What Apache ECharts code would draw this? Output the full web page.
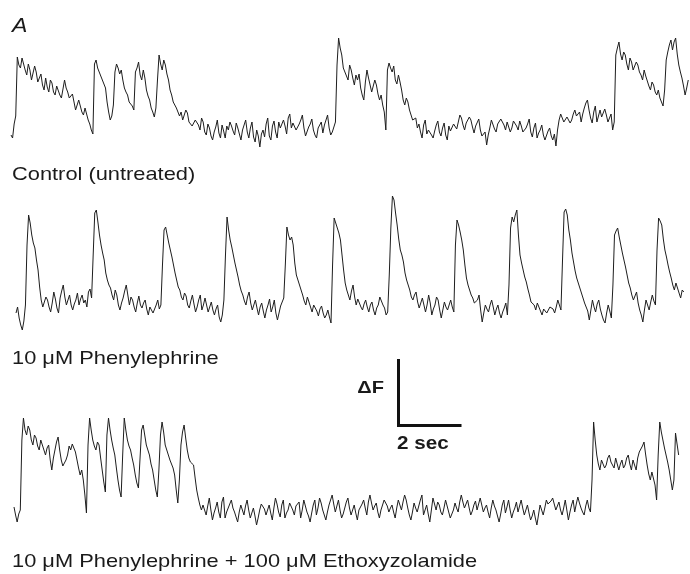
<!DOCTYPE html>
<html>
<head>
<meta charset="utf-8">
<script src="https://cdn.jsdelivr.net/npm/echarts@6/dist/echarts.min.js"></script>
<style>
html,body{margin:0;padding:0;background:#fff;}
#chart{width:690px;height:574px;}
</style>
</head>
<body>
<div id="chart"></div>
<script>
// Sampling interval (seconds) of each fluorescence trace
var dt = 0.05;

// Trace 1: Control (untreated) - fluorescence (a.u.)
var controlF = [
  15,12,26,34,93,85,82,92,90,80,75,86,80,70,72,84,78,68,70,76,
  65,60,72,63,58,70,67,58,55,64,62,55,52,61,70,62,58,52,50,56,
  48,40,42,50,44,38,35,42,36,30,26,20,16,86,90,82,80,74,72,66,
  62,48,38,30,34,45,78,86,82,76,80,70,62,58,55,48,50,44,40,78,
  82,88,75,70,80,72,60,54,50,42,38,33,42,70,95,86,80,90,85,76,
  70,60,55,48,50,42,40,34,38,30,32,40,37,28,30,24,22,30,32,25,
  20,32,28,18,15,26,22,14,10,18,23,30,17,12,25,19,12,24,20,28,
  24,19,15,27,22,16,10,20,25,30,18,12,22,28,13,8,20,14,3,16,
  20,13,26,32,14,10,24,29,18,12,28,22,20,30,24,16,32,36,22,27,
  25,20,18,26,30,35,22,14,16,23,26,31,20,15,12,22,24,28,17,25,
  30,35,22,15,18,23,28,85,112,102,95,82,78,74,70,85,80,72,65,75,
  70,76,62,55,50,68,80,72,65,58,60,70,65,56,50,55,45,38,20,80,
  87,82,78,84,70,66,75,68,60,50,45,52,48,40,38,30,28,32,22,26,
  18,12,25,30,16,20,22,15,12,19,25,29,18,14,22,27,15,10,24,19,
  20,26,28,21,22,35,32,25,20,27,25,33,30,23,17,24,26,31,20,14,
  12,18,5,15,22,30,28,21,18,26,24,31,30,25,20,28,26,18,22,29,
  28,24,20,29,24,18,16,22,26,31,18,13,22,27,12,17,20,25,15,10,
  12,19,22,14,10,16,4,20,30,36,38,28,26,33,35,27,30,36,40,34,
  32,38,28,36,42,47,50,40,32,27,38,44,28,34,40,33,32,41,35,28,
  30,36,20,28,95,102,108,96,90,98,95,86,80,92,88,80,78,88,85,78,
  75,70,80,74,72,64,60,68,65,58,55,60,52,48,44,60,90,98,105,110,
  100,108,112,96,85,78,72,64,55,62,70
];

// Trace 2: 10 uM Phenylephrine
var pheF = [
  22,28,17,10,5,14,30,90,120,112,100,92,87,75,65,48,35,28,30,38,
  35,28,23,32,43,36,27,22,37,44,50,38,30,35,40,30,25,31,35,42,
  30,36,40,32,35,28,43,46,37,80,122,125,113,100,90,82,75,62,55,50,
  47,40,35,45,40,30,25,32,37,44,50,40,30,38,35,28,23,32,39,30,
  27,32,35,26,20,28,30,22,23,30,35,26,30,70,105,108,100,92,85,78,
  70,62,55,48,45,38,35,42,39,30,27,34,40,31,23,28,35,40,25,30,
  37,30,23,28,33,25,20,26,30,18,13,20,35,80,118,105,95,88,80,72,
  65,58,50,44,40,34,30,38,43,32,25,30,35,27,20,28,32,24,17,25,
  30,36,23,28,35,22,15,22,29,33,37,70,108,100,95,98,90,72,60,55,
  50,45,40,34,30,38,37,28,23,30,32,24,19,26,29,22,17,20,25,18,
  12,70,117,112,107,102,95,80,65,52,45,40,35,44,50,38,30,36,37,28,
  25,31,35,28,23,30,33,25,20,27,30,38,37,30,27,20,23,60,107,139,
  135,122,110,96,85,80,73,62,55,50,45,38,35,40,43,33,27,32,37,30,
  23,30,40,32,20,26,30,38,35,25,17,25,33,28,25,30,35,28,23,90,
  115,110,103,95,85,70,57,50,45,40,37,32,30,35,40,25,13,22,30,26,
  23,30,35,28,20,26,30,22,17,23,27,32,20,50,107,118,113,120,125,100,
  80,72,65,58,53,46,40,33,35,30,25,32,30,24,20,26,27,22,23,28,
  30,26,22,28,35,30,25,75,123,126,120,105,95,82,73,64,57,52,47,42,
  37,32,30,24,15,25,35,28,23,31,35,26,20,15,12,22,30,24,17,50,
  100,104,107,98,90,82,75,68,60,52,47,40,35,39,43,32,25,20,13,25,
  35,30,25,33,40,34,30,85,117,114,110,96,85,78,70,63,57,50,45,52,
  50,42,37,45,43
];

// Trace 3: 10 uM Phenylephrine + 100 uM Ethoxyzolamide
var pheEtzF = [
  23,15,8,16,20,90,112,100,95,104,100,90,85,95,92,84,80,90,88,80,
  75,82,85,70,60,72,80,88,93,80,70,64,62,70,75,84,80,86,87,78,
  70,62,55,60,50,35,17,85,112,100,90,84,80,88,85,72,60,48,38,95,
  112,100,90,82,75,62,50,40,33,75,112,100,90,84,80,72,65,55,47,42,
  40,100,105,95,85,80,75,66,60,50,40,33,60,95,108,98,85,80,75,70,
  68,62,55,40,27,50,85,98,105,92,80,72,68,70,65,52,40,32,25,20,
  25,20,15,24,32,20,10,17,22,28,18,12,28,33,12,18,20,26,30,22,
  18,13,8,18,25,20,15,24,30,20,12,17,22,14,5,12,20,26,27,21,
  15,20,25,17,10,22,32,26,18,13,25,30,12,17,20,27,28,20,15,24,
  22,28,12,20,30,24,18,14,8,17,25,30,15,22,32,27,20,15,10,18,
  25,30,35,26,18,24,30,20,12,16,22,28,32,22,15,20,25,17,10,20,
  22,26,30,22,15,28,35,27,20,24,27,18,12,20,25,30,32,24,18,22,
  25,18,12,22,30,25,20,28,35,30,22,15,10,18,27,22,18,24,30,35,
  15,20,25,16,8,20,32,26,20,28,25,18,15,22,30,24,18,12,10,20,
  27,22,18,28,35,28,22,26,30,22,15,19,25,29,20,26,32,25,18,22,
  25,18,12,22,30,24,20,14,8,16,25,30,17,23,30,20,12,18,22,28,
  18,24,30,22,15,20,25,17,10,14,20,12,5,15,25,20,15,22,30,26,
  25,29,32,26,20,24,28,20,15,22,30,20,10,18,25,30,18,26,33,27,
  22,18,15,24,30,22,18,50,108,90,75,66,60,70,72,62,65,72,75,68,
  68,62,72,66,60,66,70,62,65,72,75,66,60,70,65,60,72,78,80,84,
  88,76,65,56,50,58,60,45,30,75,108,98,90,82,75,68,60,50,40,50,
  97,86,75
];

// Text
var panelLabel = 'A';
var traceLabels = ['Control (untreated)', '10 \u03bcM Phenylephrine', '10 \u03bcM Phenylephrine + 100 \u03bcM Ethoxyzolamide'];
var scaleYLabel = '\u0394F';
var scaleXLabel = '2 sec';

function toPairs(arr) {
  return arr.map(function (v, i) { return [+(i * dt).toFixed(3), v]; });
}

var pxPerSec = 31.5;
var traces = [
  { data: controlF, left: 11, top: 30, height: 120, ymax: 120 },
  { data: pheF,     left: 16, top: 185, height: 150, ymax: 150 },
  { data: pheEtzF,  left: 14, top: 410, height: 120, ymax: 120 }
];

var grids = [], xAxes = [], yAxes = [], series = [];
traces.forEach(function (t, k) {
  var span = (t.data.length - 1) * dt;
  grids.push({ left: t.left, top: t.top, width: span * pxPerSec, height: t.height, containLabel: false });
  xAxes.push({ type: 'value', gridIndex: k, min: 0, max: span, show: false });
  yAxes.push({ type: 'value', gridIndex: k, min: 0, max: t.ymax, show: false });
  series.push({
    type: 'line', xAxisIndex: k, yAxisIndex: k, data: toPairs(t.data),
    showSymbol: false, symbol: 'none', animation: false, silent: true,
    lineStyle: { color: '#1e1e1e', width: 1 }
  });
});

var font = "'Liberation Sans', Arial, Helvetica, sans-serif";
var sx = 1.18;
function label(txt, x, y, size, opts) {
  opts = opts || {};
  return {
    type: 'text', x: x, y: y, scaleX: opts.scaleX || sx,
    style: {
      text: txt, fill: '#1a1a1a',
      font: (opts.style || '') + ' ' + (opts.weight || 'normal') + ' ' + size + 'px ' + font,
      textAlign: opts.align || 'left', textVerticalAlign: 'middle'
    }
  };
}

var chart = echarts.init(document.getElementById('chart'), null, { renderer: 'canvas' });
chart.setOption({
  backgroundColor: '#ffffff',
  animation: false,
  grid: grids,
  xAxis: xAxes,
  yAxis: yAxes,
  series: series,
  graphic: [
    label(panelLabel, 12, 26, 21, { style: 'italic', scaleX: 1.1 }),
    label(traceLabels[0], 12, 175, 18.5),
    label(traceLabels[1], 12, 359, 18.5),
    label(traceLabels[2], 12, 562, 18.5),
    label(scaleYLabel, 384, 388, 17, { weight: 'bold', align: 'right' }),
    label(scaleXLabel, 397, 444, 17.5, { weight: 'bold' }),
    {
      type: 'polyline',
      shape: { points: [[398.5, 359], [398.5, 425.5], [461.5, 425.5]] },
      style: { stroke: '#111', lineWidth: 3, fill: null, lineJoin: 'miter' }
    }
  ]
});
</script>
</body>
</html>
